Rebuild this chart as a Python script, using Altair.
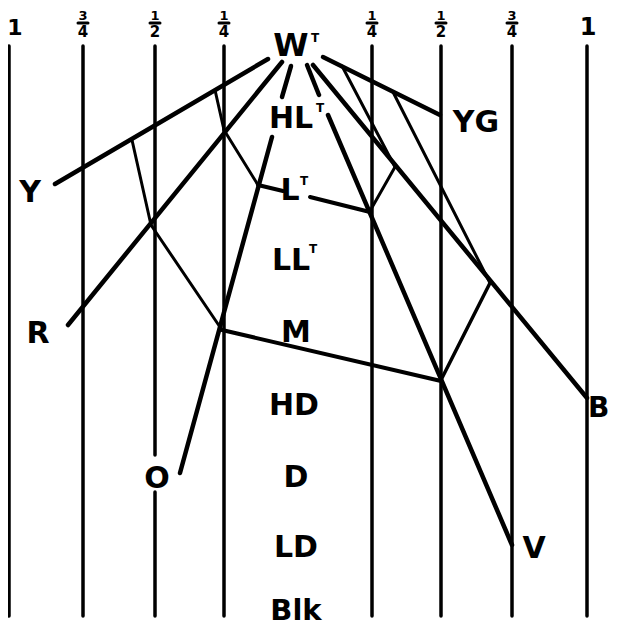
import altair as alt
import pandas as pd

# ---- guide (vertical) lines and their fraction labels ----
guide_x = [9, 83, 155, 224, 372, 441, 512, 587]
guide_top = [46, 46, 46, 46, 46, 46, 46, 46]
guide_bottom = [616, 616, 616, 616, 616, 616, 616, 616]
guide_whole = ["1", "", "", "", "", "", "", "1"]
guide_whole_x = [15, 0, 0, 0, 0, 0, 0, 588]
guide_whole_fs = [22, 0, 0, 0, 0, 0, 0, 24]
guide_num = ["", "3", "1", "1", "1", "1", "3", ""]
guide_den = ["", "4", "2", "4", "4", "2", "4", ""]
# gap in the left "1/2" guide where the O label sits
gap_guide_x = [155]
gap_from = [455]
gap_to = [492]

# ---- radial lines from W (x1, y1, x2, y2) ----
radial_x1 = [268, 282, 291, 272, 307, 328, 313, 323]
radial_y1 = [59, 62, 66, 137, 65, 115, 65, 57]
radial_x2 = [55, 68, 282, 180, 319, 512, 587, 440]
radial_y2 = [184, 325, 97, 473, 95, 545, 398, 115]

# ---- connecting lines ----
conn_x1 = [342, 395, 393, 490, 215, 224, 132, 151, 222, 258, 310]
conn_y1 = [66, 167, 92, 283, 90, 130, 140, 225, 330, 185, 197]
conn_x2 = [395, 370, 490, 441, 224, 258, 151, 222, 441, 283, 370]
conn_y2 = [167, 211, 283, 380, 130, 185, 225, 330, 381, 191, 212]
conn_w = [3, 3, 3, 3.5, 3, 3, 3, 3, 4, 4, 4]

# ---- labels ----
label_text = ["W", "HL", "L", "LL", "M", "HD", "D", "LD", "Blk",
              "Y", "R", "O", "YG", "B", "V"]
label_x = [291, 291, 290, 291, 296, 294, 296, 296, 296,
           30, 38, 157, 476, 588, 534]
label_y = [56, 128, 200, 270, 342, 415, 487, 557, 620,
           202, 343, 488, 132, 417, 558]
label_fs = [32, 30, 30, 30, 30, 30, 30, 30, 29,
            30, 30, 30, 30, 28, 30]
label_align = ["center"] * 13 + ["left", "center"]
sup_text = ["T", "T", "T", "T"]
sup_x = [315, 320, 304, 313]
sup_y = [42, 112, 185, 253]

# ---------------- build tables ----------------
seg_rows = []
for i, gx in enumerate(guide_x):
    if gx in gap_guide_x:
        j = gap_guide_x.index(gx)
        seg_rows.append(dict(x=gx, y=guide_top[i], x2=gx, y2=gap_from[j], w=3.5))
        seg_rows.append(dict(x=gx, y=gap_to[j], x2=gx, y2=guide_bottom[i], w=3.5))
    else:
        seg_rows.append(dict(x=gx, y=guide_top[i], x2=gx, y2=guide_bottom[i], w=3.5))
for a, b, c, d in zip(radial_x1, radial_y1, radial_x2, radial_y2):
    seg_rows.append(dict(x=a, y=b, x2=c, y2=d, w=4.5))
for a, b, c, d, w in zip(conn_x1, conn_y1, conn_x2, conn_y2, conn_w):
    seg_rows.append(dict(x=a, y=b, x2=c, y2=d, w=w))
# fraction bars
for i, gx in enumerate(guide_x):
    if guide_den[i]:
        seg_rows.append(dict(x=gx - 5, y=23, x2=gx + 5, y2=23, w=3))
segs = pd.DataFrame(seg_rows)

txt_rows = []
for t, x, y, f, a in zip(label_text, label_x, label_y, label_fs, label_align):
    txt_rows.append(dict(t=t, x=x, y=y, fs=f, al=a))
for t, x, y in zip(sup_text, sup_x, sup_y):
    txt_rows.append(dict(t=t, x=x, y=y, fs=12, al="center"))
for i, gx in enumerate(guide_x):
    if guide_whole[i]:
        txt_rows.append(dict(t=guide_whole[i], x=guide_whole_x[i], y=35,
                             fs=guide_whole_fs[i], al="center"))
    if guide_num[i]:
        txt_rows.append(dict(t=guide_num[i], x=gx, y=20, fs=13, al="center"))
        txt_rows.append(dict(t=guide_den[i], x=gx, y=37, fs=15, al="center"))
txts = pd.DataFrame(txt_rows)

xs = alt.Scale(domain=[8, 609], nice=False, zero=False)
ys = alt.Scale(domain=[8, 627], nice=False, zero=False, reverse=True)

lines = alt.Chart(segs).mark_rule(color="black", strokeCap="round").encode(
    x=alt.X("x:Q", scale=xs, axis=None),
    y=alt.Y("y:Q", scale=ys, axis=None),
    x2="x2:Q",
    y2="y2:Q",
    size=alt.Size("w:Q", scale=None, legend=None),
)

def text_layer(df, align):
    return alt.Chart(df).mark_text(
        font="DejaVu Sans", fontWeight="bold", baseline="alphabetic",
        align=align, color="black"
    ).encode(
        x=alt.X("x:Q", scale=xs, axis=None),
        y=alt.Y("y:Q", scale=ys, axis=None),
        text="t:N",
        size=alt.Size("fs:Q", scale=None, legend=None),
    )

labels_c = text_layer(txts[txts.al == "center"], "center")
labels_l = text_layer(txts[txts.al == "left"], "left")

chart = alt.layer(lines, labels_c, labels_l).properties(
    width=601, height=619, autosize=alt.AutoSizeParams(type="none"), padding=0
).configure_view(stroke=None)

chart.save("out.html", embed_options={"renderer": "svg", "actions": False})
